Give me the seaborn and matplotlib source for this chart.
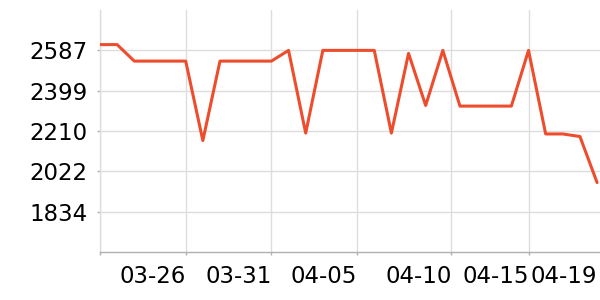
import matplotlib
matplotlib.use('Agg')
import matplotlib.pyplot as plt
import matplotlib.dates as mdates
import seaborn as sns
import pandas as pd

# ---- data ----
dates = pd.date_range('2024-03-21', '2024-04-19', freq='D')
values = [2614, 2614, 2537, 2537, 2537, 2537, 2166, 2537, 2537, 2537, 2537,
          2587, 2201, 2587, 2587, 2587, 2587, 2201, 2573, 2330, 2587,
          2327, 2327, 2327, 2327, 2587, 2197, 2197, 2185, 1970]
ytick_values = [1834.25, 2022.5, 2210.75, 2399, 2587.25]
ytick_labels = ['1834', '2022', '2210', '2399', '2587']
xtick_dates = ['2024-03-21', '2024-03-26', '2024-03-31', '2024-04-05',
               '2024-04-10 12:00', '2024-04-15']
xtick_labels = ['', '03-26', '03-31', '04-05', '04-10', '04-15']
last_label_date = '2024-04-19'
last_label = '04-19'
y_range = (1646, 2775.5)

df = pd.DataFrame({'date': dates, 'value': values})

sns.set_style('white')
plt.rcParams['font.family'] = ['DejaVu Sans']

fig = plt.figure(figsize=(6, 3), dpi=100)
ax = fig.add_axes([100 / 600, 48 / 300, 500 / 600, 242 / 300])

sns.lineplot(data=df, x='date', y='value', ax=ax, color='#ee4d2d',
             linewidth=2.2, zorder=3)

ax.set_xlim(mdates.date2num(dates[0]),
            mdates.date2num(dates[-1]) + 0.17)
ax.set_ylim(*y_range)

ax.set_xticks([mdates.date2num(pd.Timestamp(d)) for d in xtick_dates])
ax.set_xticklabels(xtick_labels)
ax.set_xticks([mdates.date2num(pd.Timestamp(last_label_date))], minor=True)
ax.set_xticklabels([last_label], minor=True)
ax.set_yticks(ytick_values)
ax.set_yticklabels(ytick_labels)

ax.set_xlabel('')
ax.set_ylabel('')

ax.grid(True, which='major', color='#dddddd', linewidth=1)
ax.grid(False, which='minor')

for s in ['top', 'right']:
    ax.spines[s].set_visible(False)
ax.spines['left'].set_color('#dddddd')
ax.spines['left'].set_linewidth(1)
ax.spines['bottom'].set_color('#b0b0b0')
ax.spines['bottom'].set_linewidth(1)

ax.tick_params(axis='x', which='major', length=2.5, width=1, color='#b0b0b0',
               labelsize=16.5, pad=6.8, labelcolor='black', bottom=True)
ax.tick_params(axis='x', which='minor', length=0, labelsize=16.5,
               pad=6.8 + 2.5, labelcolor='black', bottom=True)
ax.tick_params(axis='y', which='major', length=2.2, width=1, color='#b0b0b0',
               labelsize=16.5, pad=7, labelcolor='black', left=True)

for lab in ax.get_xticklabels(which='both'):
    lab.set_horizontalalignment('right')

fig.savefig('out.png', dpi=100)
